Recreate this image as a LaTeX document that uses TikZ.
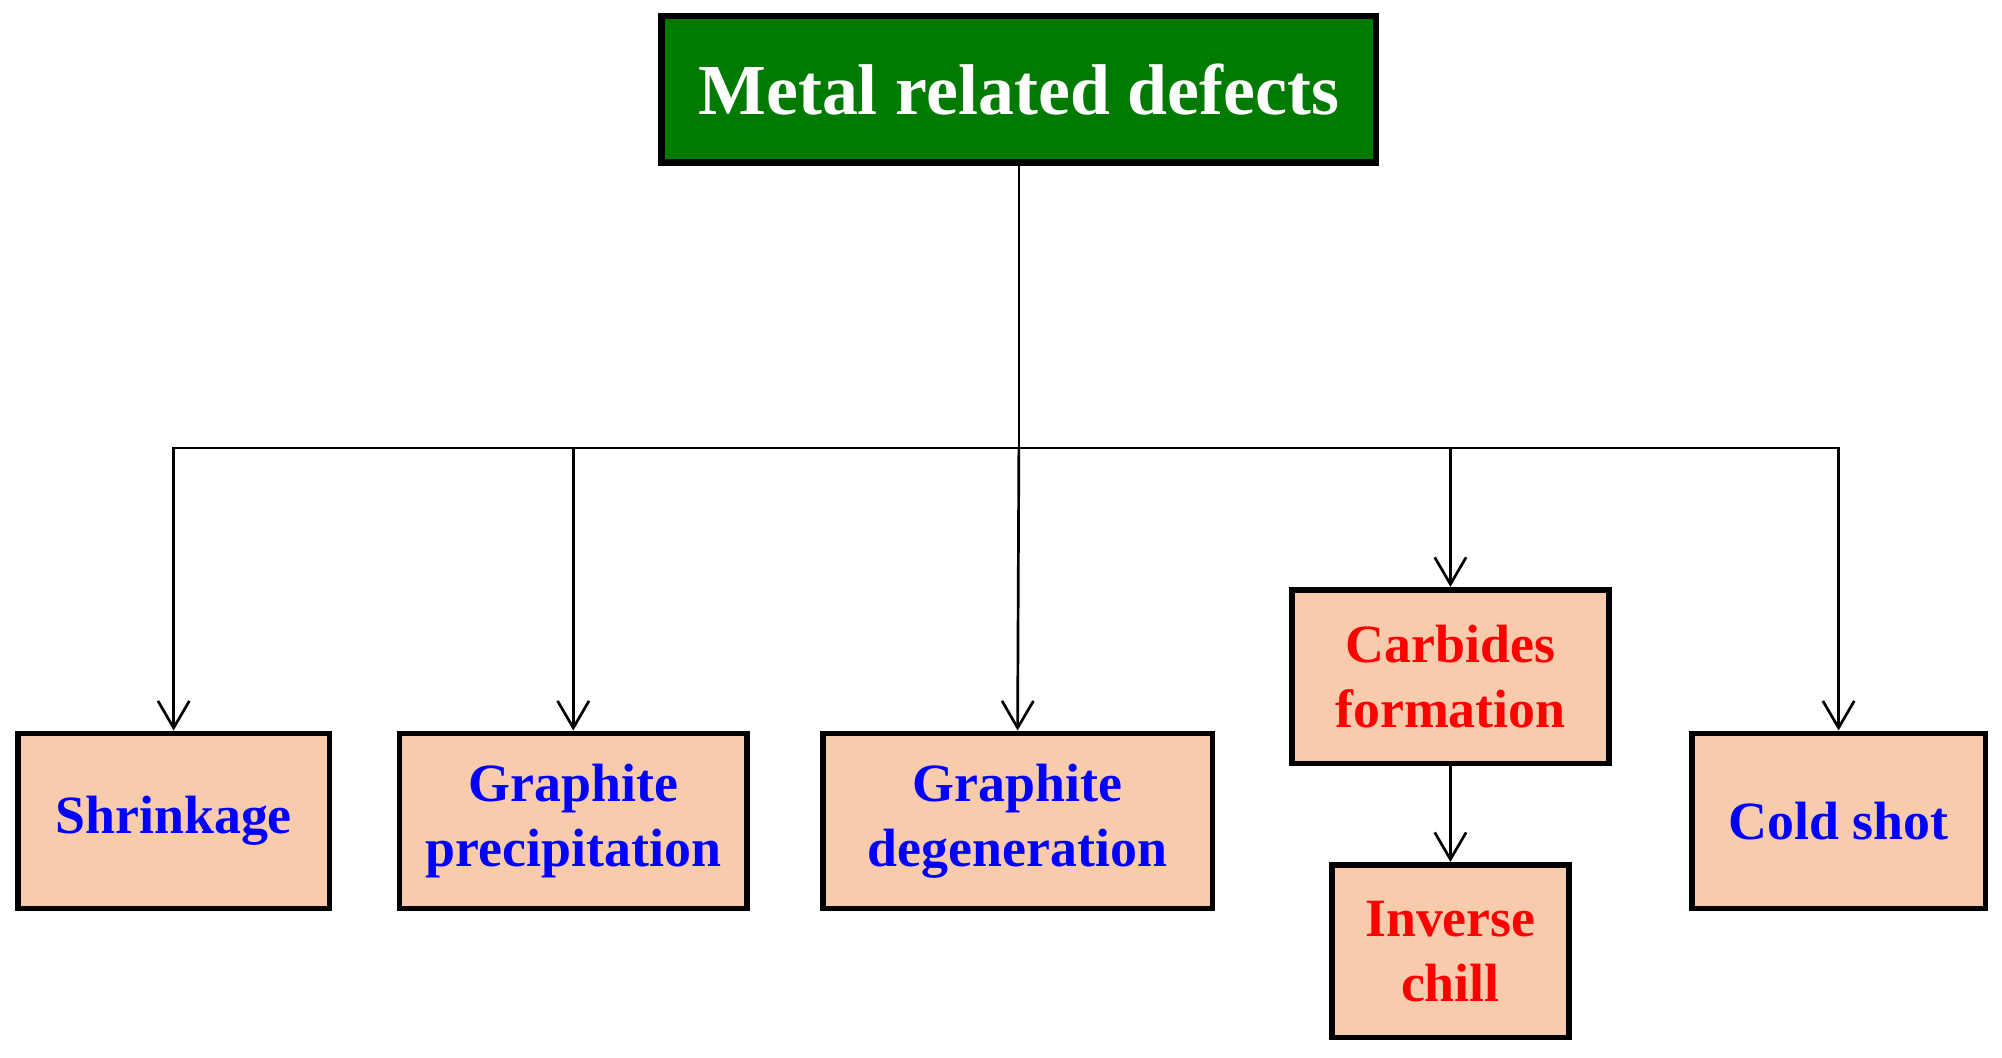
\documentclass[tikz,border=0pt]{standalone}
\usepackage{fontspec}
\setmainfont{Liberation Serif}
\usetikzlibrary{arrows.meta}
\definecolor{peach}{HTML}{F8CBAD}
\definecolor{dgreen}{HTML}{007A00}
\begin{document}
\begin{tikzpicture}[x=0.01cm,y=-0.01cm,
  box/.style={draw=black,line width=1.3pt,fill=peach,font=\fontsize{12}{14.5}\selectfont\bfseries,text=blue,align=center,inner sep=0pt},
  red/.style={text=red},
  conn/.style={line width=0.6pt,-{Straight Barb[length=6pt,width=7pt]}}]
\useasboundingbox (0,0) rectangle (1568,828);
\node[draw=black,line width=1.5pt,fill=dgreen,text=white,font=\fontsize{16}{19}\selectfont\bfseries,minimum width=5.59cm,minimum height=1.15cm] (top) at (798,70) {Metal related defects};
\node[box,minimum width=2.44cm,minimum height=1.37cm] (s) at (136,643) {Shrinkage};
\node[box,minimum width=2.72cm,minimum height=1.37cm] (gp) at (449,643) {Graphite\\precipitation};
\node[box,minimum width=3.05cm,minimum height=1.37cm] (gd) at (797,643) {Graphite\\degeneration};
\node[box,red,minimum width=2.48cm,minimum height=1.36cm] (cf) at (1136,530) {Carbides\\formation};
\node[box,red,minimum width=1.85cm,minimum height=1.35cm] (ic) at (1136,745) {Inverse\\chill};
\node[box,minimum width=2.30cm,minimum height=1.37cm] (cs) at (1440,643) {Cold shot};
\coordinate (j) at (798,351);
\draw[line width=0.6pt] (top.south) -- (j);
\draw[conn] (j) -| (s.north);
\draw[conn] (j) -| (gp.north);
\draw[conn] (j) -- (gd.north);
\draw[conn] (j) -| (cf.north);
\draw[conn] (j) -| (cs.north);
\draw[conn] (cf.south) -- (ic.north);
\end{tikzpicture}
\end{document}
